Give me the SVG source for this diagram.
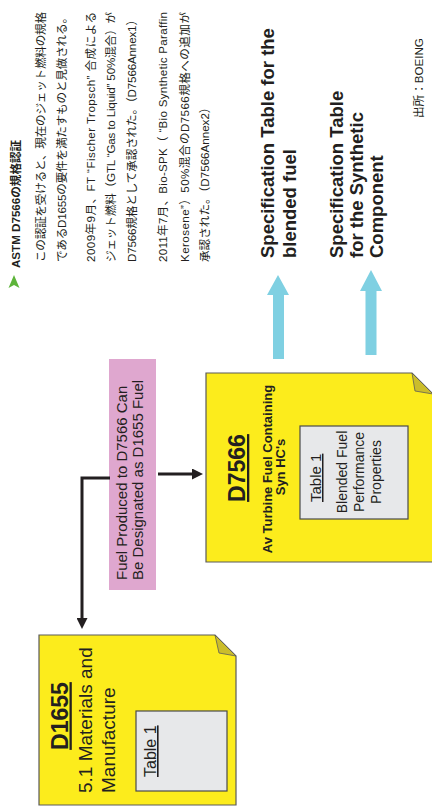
<svg xmlns="http://www.w3.org/2000/svg" width="432" height="812" viewBox="0 0 432 812">
<style>
.lat{font-family:"Liberation Sans",Arial,sans-serif;fill:#231f20}
.jp{font-family:"Liberation Sans","Noto Sans CJK JP",sans-serif;fill:#231f20;font-size:11.6px}
.b{font-weight:bold}
.page{fill:#fcec1c;stroke:#5a5a5a;stroke-width:1.2}
.fold{fill:#cbbd2b;stroke:#5a5a5a;stroke-width:0.8}
.tbl{fill:#e7e8ea;stroke:#4a4a4a;stroke-width:1.2}
.con{fill:none;stroke:#231f20;stroke-width:3}
.cy{fill:#7fd0e2}
</style>
<defs>
<marker id="ah" markerWidth="11" markerHeight="11" refX="7" refY="5.5" orient="auto" markerUnits="userSpaceOnUse">
<path d="M0,0 L11,5.5 L0,11 z" fill="#231f20"/>
</marker>
</defs>
<rect width="432" height="812" fill="#ffffff"/>

<g id="notes">
<polygon points="14,275 19.5,288 14,285 8.5,288" fill="#5db43a"/>
<text class="jp b" font-size="12.5" transform="translate(19.5,268) rotate(-90)">ASTM D7566の規格認証</text>
<text class="jp" transform="translate(44.5,262) rotate(-90)" textLength="250" lengthAdjust="spacing">この認証を受けると、現在のジェット燃料の規格</text>
<text class="jp" transform="translate(66,262) rotate(-90)" textLength="250" lengthAdjust="spacing">であるD1655の要件を満たすものと見做される。</text>
<text class="jp" transform="translate(94.5,262) rotate(-90)" textLength="250" lengthAdjust="spacing">2009年9月、FT “Fischer Tropsch” 合成による</text>
<text class="jp" transform="translate(114.5,262) rotate(-90)" textLength="250" lengthAdjust="spacing">ジェット燃料（GTL “Gas to Liquid” 50%混合）が</text>
<text class="jp" transform="translate(135.5,262) rotate(-90)" textLength="248" lengthAdjust="spacing">D7566規格として承認された。（D7566Annex1）</text>
<text class="jp" transform="translate(166.5,262) rotate(-90)" textLength="250" lengthAdjust="spacing">2011年7月、Bio-SPK（ “Bio Synthetic Paraffin</text>
<text class="jp" transform="translate(188.5,262) rotate(-90)" textLength="250" lengthAdjust="spacing">Kerosene”）50%混合のD7566規格への追加が</text>
<text class="jp" transform="translate(208.5,262) rotate(-90)">承認された。（D7566Annex2）</text>
</g>

<g id="spec-blended">
<text class="lat b" font-size="18.5" transform="translate(274,258) rotate(-90)">Specification Table for the</text>
<text class="lat b" font-size="18.5" transform="translate(296,258) rotate(-90)">blended fuel</text>
</g>

<g id="spec-synthetic">
<text class="lat b" font-size="18.5" transform="translate(343,258) rotate(-90)">Specification Table</text>
<text class="lat b" font-size="18.5" transform="translate(363,258) rotate(-90)">for the Synthetic</text>
<text class="lat b" font-size="18.5" transform="translate(383,258) rotate(-90)">Component</text>
</g>

<g id="source">
<text class="jp" font-size="10.5" transform="translate(423,118) rotate(-90)">出所：BOEING</text>
</g>

<g id="arrow-blended">
<polygon class="cy" points="278,275 289,295 284,295 284,359 273,359 273,295 267,295"/>
</g>
<g id="arrow-synthetic">
<polygon class="cy" points="371,270 382,291 376.5,291 376.5,355 365.5,355 365.5,291 360,291"/>
</g>

<g id="d7566">
<polygon class="page" points="206,373 412,373 433,394 433,562 206,562"/>
<polygon class="fold" points="412,373 415,391 433,394"/>
<text class="lat b" font-size="23" text-anchor="middle" text-decoration="underline" transform="translate(245,468) rotate(-90)">D7566</text>
<text class="lat b" font-size="13" text-anchor="middle" transform="translate(272,469) rotate(-90)">Av Turbine Fuel Containing</text>
<text class="lat b" font-size="13" text-anchor="middle" transform="translate(285,467) rotate(-90)">Syn HC's</text>
<rect class="tbl" x="300" y="426" width="108" height="93"/>
<text class="lat" font-size="15" text-decoration="underline" transform="translate(321,502) rotate(-90)">Table 1</text>
<text class="lat" font-size="14" text-anchor="middle" transform="translate(346.5,472) rotate(-90)">Blended Fuel</text>
<text class="lat" font-size="14" text-anchor="middle" transform="translate(364,472) rotate(-90)">Performance</text>
<text class="lat" font-size="14" text-anchor="middle" transform="translate(381,472) rotate(-90)">Properties</text>
</g>

<g id="d1655">
<polygon class="page" points="39,635 215,635 236,656 236,805 39,805"/>
<polygon class="fold" points="215,635 219,653 236,656"/>
<text class="lat b" font-size="23" text-anchor="middle" text-decoration="underline" transform="translate(67.5,716) rotate(-90)">D1655</text>
<text class="lat" font-size="19" transform="translate(91.5,793) rotate(-90)">5.1 Materials and</text>
<text class="lat" font-size="19" transform="translate(115,793) rotate(-90)">Manufacture</text>
<rect class="tbl" x="136" y="711" width="91" height="80"/>
<text class="lat" font-size="16" text-decoration="underline" transform="translate(156,777) rotate(-90)">Table 1</text>
</g>

<g id="fuel-produced">
<rect x="109" y="359" width="47" height="231" fill="#dfa7cf"/>
<text class="lat" font-size="15" transform="translate(126.5,580) rotate(-90)">Fuel Produced to D7566 Can</text>
<text class="lat" font-size="15" transform="translate(143,580) rotate(-90)">Be Designated as D1655 Fuel</text>
</g>

<g id="connectors">
<path class="con" d="M158,474 L199,474" marker-end="url(#ah)"/>
<path class="con" d="M110,478 L82,478 L82,625" marker-end="url(#ah)"/>
</g>
</svg>
